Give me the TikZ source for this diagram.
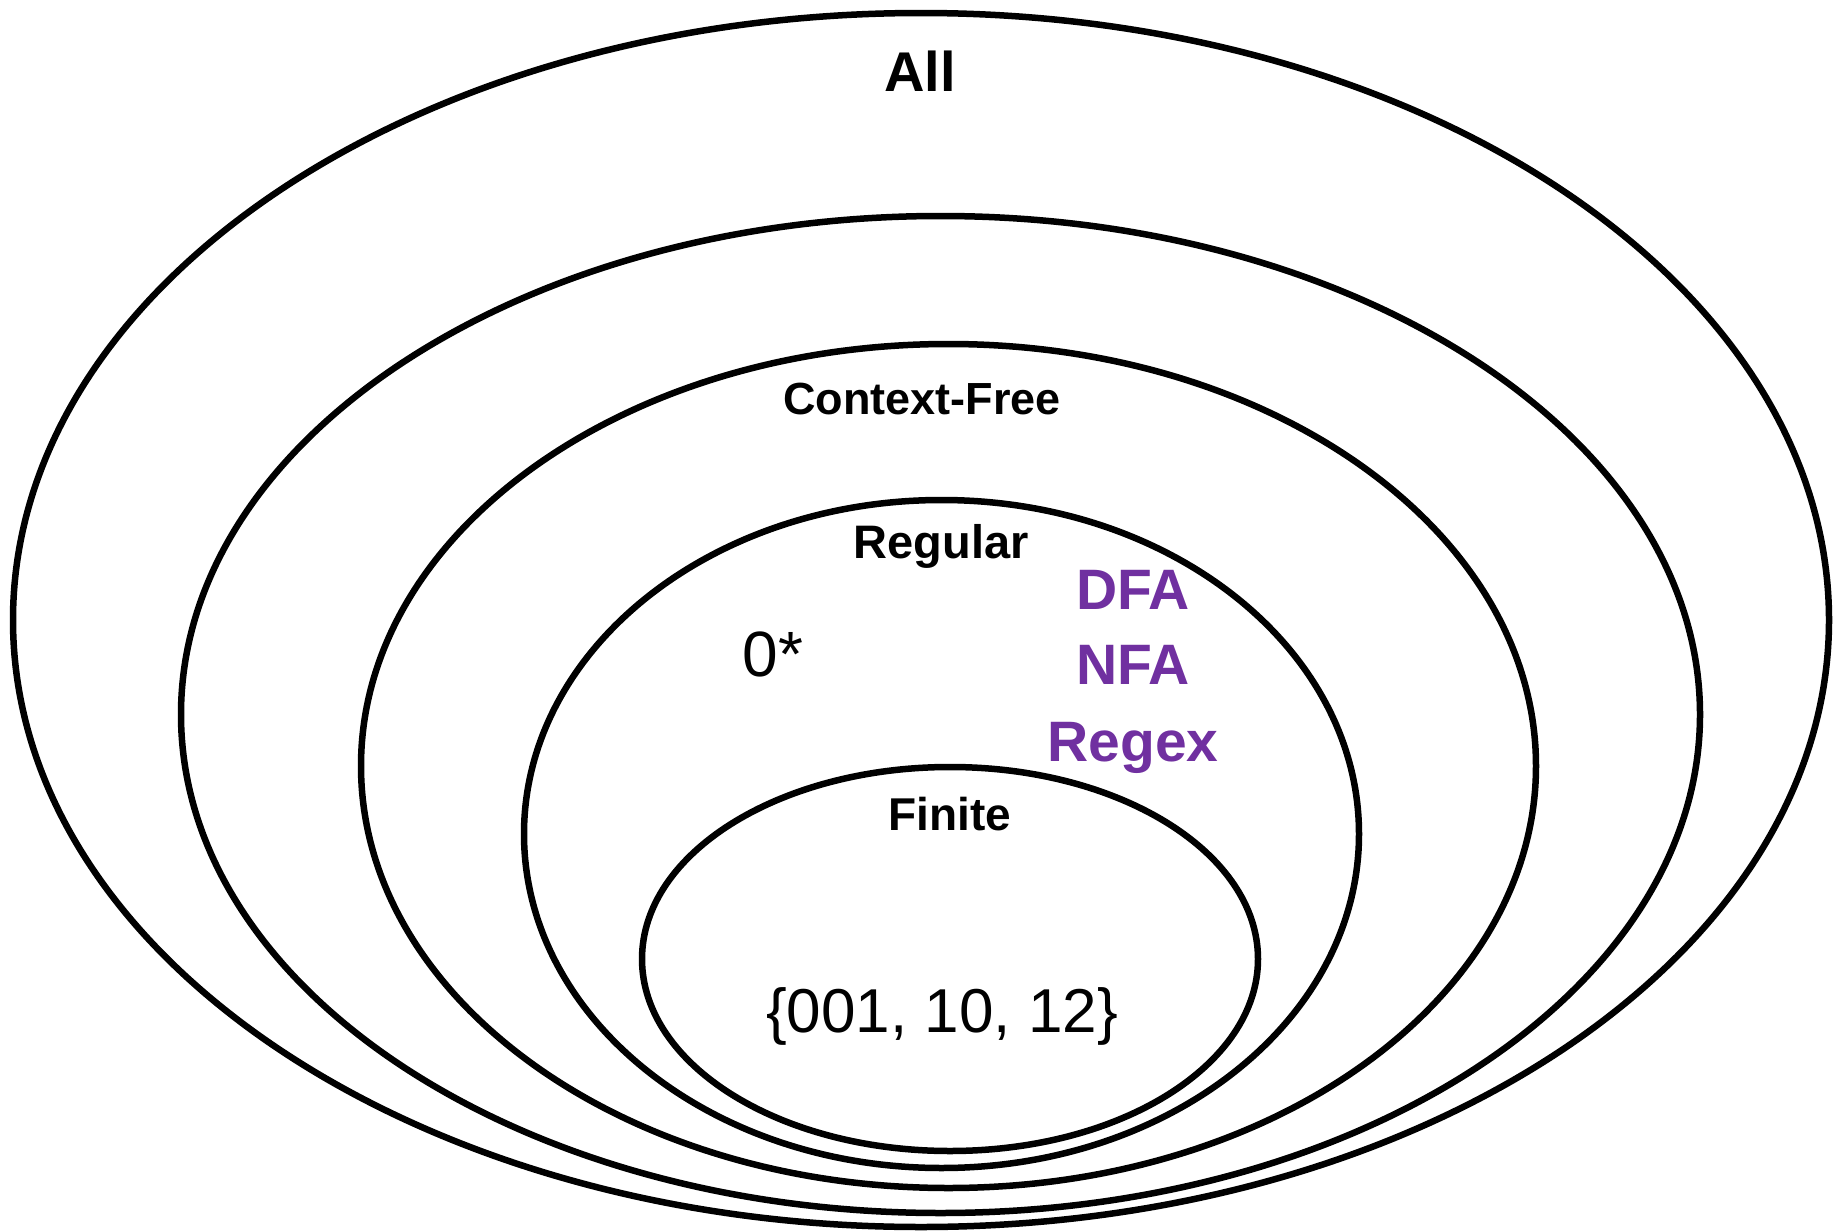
\documentclass[tikz,border=0pt]{standalone}
\usepackage{fontspec}
\setmainfont{Liberation Sans}
\usetikzlibrary{shapes.geometric}
\definecolor{langpurple}{HTML}{7030A0}
\tikzset{
  setring/.style={draw=black, line width=3.25pt, ellipse, inner sep=0pt, outer sep=0pt},
  boldlbl/.style={anchor=base, inner sep=0pt, font=\bfseries\fontsize{#1}{#1}\selectfont},
  plainlbl/.style={anchor=base, inner sep=0pt, font=\fontsize{#1}{#1}\selectfont},
  modellbl/.style={boldlbl=28.5, text=langpurple}
}
\begin{document}
\begin{tikzpicture}[x=0.5pt,y=-0.5pt]
\useasboundingbox (0,0) rectangle (1843,1231);
% nested sets
\node[setring, minimum width=908pt, minimum height=607pt] (all) at (921,620) {};
\node[setring, minimum width=759.5pt, minimum height=498.5pt] (lvl2) at (940.5,714.5) {};
\node[setring, minimum width=587.5pt, minimum height=422pt] (cf) at (948.5,766) {};
\node[setring, minimum width=417.5pt, minimum height=334pt] (reg) at (941.5,834) {};
\node[setring, minimum width=308pt, minimum height=192pt] (fin) at (950,959) {};
% labels
\node[boldlbl=28] (allLbl) at (920,91) {All};
\node[boldlbl=22.5] (cfLbl) at (922,414) {Context-Free};
\node[boldlbl=23.5] (regLbl) at (941,558) {Regular};
\node[boldlbl=23] (finLbl) at (950,830) {Finite};
\node[plainlbl=32] (zeroStar) at (773,676) {0*};
\node[plainlbl=31] (finEx) at (942,1032) {\{001, 10, 12\}};
\node[modellbl] (dfa) at (1133,609) {DFA};
\node[modellbl] (nfa) at (1133,684) {NFA};
\node[modellbl] (regex) at (1133,761) {Regex};
\end{tikzpicture}
\end{document}
